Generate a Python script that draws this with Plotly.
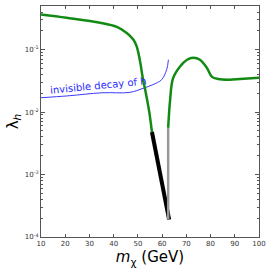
import plotly.graph_objects as go

# Green curve (relic density), left branch
m_left = [10, 20.6, 34.4, 41.3, 45.4, 48.1, 49.5, 50.9, 52.0, 53.3, 54.7, 55.8]
lam_left = [0.365, 0.323, 0.269, 0.231, 0.185, 0.145, 0.113, 0.0649, 0.0355, 0.020, 0.010, 0.0048]

# Black segment
m_black = [55.8, 62.9]
lam_black = [0.0048, 0.00019]

# Gray vertical segment
m_gray = [62.5, 62.5]
lam_gray = [0.00019, 0.0056]

# Green curve, right branch
m_right = [62.5, 63.3, 64.5, 67.4, 70.3, 72.8, 75.6, 78.5, 80.6, 83.1, 88.0, 92.2, 100]
lam_right = [0.0056, 0.0155, 0.0347, 0.0537, 0.069, 0.074, 0.069, 0.051, 0.0367, 0.0339, 0.0331, 0.0339, 0.0355]

# Invisible decay of h bound
m_inv = [10, 21.1, 35.2, 46.7, 52.1, 56.2, 59.8, 61.9, 62.6]
lam_inv = [0.017, 0.0182, 0.0204, 0.0207, 0.024, 0.0275, 0.033, 0.048, 0.069]

x_ticks = [10, 20, 30, 40, 50, 60, 70, 80, 90, 100]
y_ticks = [1e-4, 1e-3, 1e-2, 1e-1]
y_ticktext = ["10<sup>-4</sup>", "10<sup>-3</sup>", "10<sup>-2</sup>", "10<sup>-1</sup>"]

fig = go.Figure()
fig.add_trace(go.Scatter(x=m_inv, y=lam_inv, mode="lines",
                         line=dict(color="#3b3bff", width=1, shape="spline"), showlegend=False))
fig.add_trace(go.Scatter(x=m_left, y=lam_left, mode="lines",
                         line=dict(color="#138a13", width=2.5, shape="spline"), showlegend=False))
fig.add_trace(go.Scatter(x=m_right, y=lam_right, mode="lines",
                         line=dict(color="#138a13", width=2.5, shape="spline"), showlegend=False))
fig.add_trace(go.Scatter(x=m_black, y=lam_black, mode="lines",
                         line=dict(color="black", width=4), showlegend=False))
fig.add_trace(go.Scatter(x=m_gray, y=lam_gray, mode="lines",
                         line=dict(color="#999999", width=2.5), showlegend=False))

fig.add_annotation(x=33.9, y=-1.578, xref="x", yref="y", text="invisible decay of h",
                   showarrow=False, textangle=-5.5,
                   font=dict(family="DejaVu Sans", size=10, color="#2a2aff"))

axis_common = dict(showgrid=False, zeroline=False, showline=True, linecolor="#555555",
                   linewidth=1, mirror="ticks", ticks="inside", tickcolor="#555555",
                   automargin=False,
                   tickfont=dict(family="DejaVu Sans", size=7, color="#333333"))

fig.update_xaxes(range=[10, 100], tickvals=x_ticks, ticklen=3,
                 title=dict(text="<i>m</i><sub>χ</sub> (GeV)",
                            font=dict(family="DejaVu Sans", size=15, color="black"), standoff=4),
                 **axis_common)
fig.update_yaxes(type="log", range=[-4, -0.301], tickvals=y_ticks, ticktext=y_ticktext, ticklen=4,
                 minor=dict(ticks="inside", ticklen=2, tickcolor="#555555", dtick="D1", showgrid=False),
                 title=dict(text="λ<sub><i>h</i></sub>",
                            font=dict(family="DejaVu Sans", size=15, color="black"), standoff=2),
                 **axis_common)

fig.update_layout(width=273, height=273, margin=dict(l=41, r=14, t=6, b=36, autoexpand=False),
                  paper_bgcolor="white", plot_bgcolor="white")

fig.write_html("out.html", config={"displayModeBar": False},
               post_script="document.body.style.margin='0';document.body.style.overflow='hidden';")
